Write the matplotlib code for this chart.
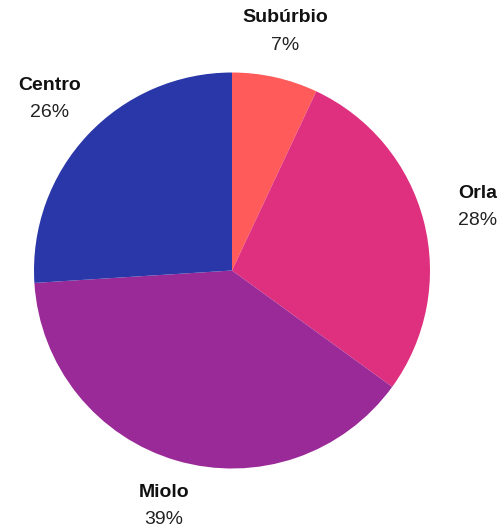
import numpy as np
import matplotlib
matplotlib.use("Agg")
import matplotlib.pyplot as plt

categories = ["Subúrbio", "Orla", "Miolo", "Centro"]
values = [7, 28, 39, 26]
colors = ["#FF5B5B", "#DF2F7F", "#9A2A98", "#2A37A8"]

plt.rcParams['font.family'] = ['Liberation Sans', 'DejaVu Sans']

W, H = 500, 528
fig = plt.figure(figsize=(W / 100, H / 100), dpi=100)
ax = fig.add_axes([0, 0, 1, 1])

R_px = 198.0
cx, cy = 232.0, 270.5

wedges, _ = ax.pie(values, colors=colors, startangle=90, counterclock=False,
                   radius=1.0, wedgeprops=dict(linewidth=0))

ax.set_xlim(-cx / R_px, (W - cx) / R_px)
ax.set_ylim(-(H - cy) / R_px, cy / R_px)
ax.set_aspect('auto')
ax.axis('off')

total = sum(values)
for w, name, v in zip(wedges, categories, values):
    mid = np.deg2rad((w.theta1 + w.theta2) / 2)
    d = 1.222 + 0.06 * abs(np.cos(mid))
    x, y = d * np.cos(mid), d * np.sin(mid)
    ax.annotate(name, (x, y), xytext=(0, 10), textcoords='offset points',
                ha='center', va='center', fontsize=14, fontweight='bold',
                color='#111111')
    ax.annotate(f"{round(100 * v / total)}%", (x, y), xytext=(0, -9.6),
                textcoords='offset points', ha='center', va='center',
                fontsize=14, color='#222222')

fig.savefig("out.png", dpi=100)
